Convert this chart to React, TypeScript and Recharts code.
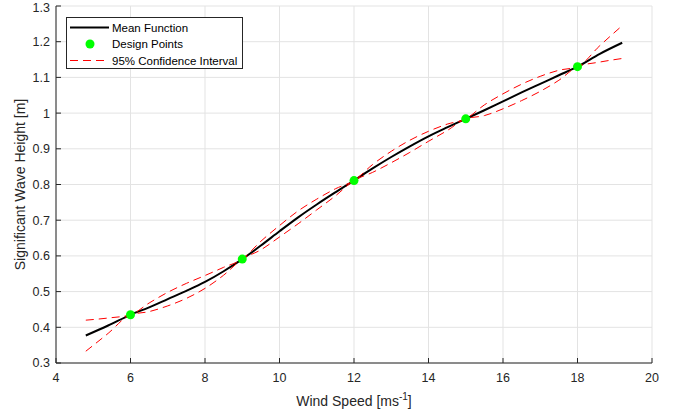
import {
  ComposedChart,
  Line,
  Scatter,
  XAxis,
  YAxis,
  CartesianGrid,
  Legend,
} from 'recharts';

// grid of wind speeds the curves were read at
const windSpeed = [
  4.8, 5.4, 6, 6.5, 7, 7.5, 8, 8.5, 9, 9.5, 10, 10.5, 11, 11.5, 12, 12.5, 13,
  13.5, 14, 14.5, 15, 15.5, 16, 16.5, 17, 17.5, 18, 18.6, 19.2,
];
const meanHs = [
  0.377, 0.405, 0.435, 0.456, 0.479, 0.502, 0.527, 0.557, 0.591, 0.629, 0.669,
  0.708, 0.744, 0.778, 0.811, 0.845, 0.877, 0.907, 0.935, 0.96, 0.984, 1.008,
  1.033, 1.058, 1.082, 1.106, 1.13, 1.166, 1.197,
];
const upperHs = [
  0.42, 0.426, 0.435, 0.468, 0.498, 0.523, 0.545, 0.568, 0.591, 0.641, 0.685,
  0.726, 0.759, 0.788, 0.811, 0.856, 0.893, 0.924, 0.949, 0.969, 0.984, 1.023,
  1.054, 1.081, 1.103, 1.12, 1.13, 1.189, 1.245,
];
const lowerHs = [
  0.333, 0.383, 0.435, 0.444, 0.46, 0.481, 0.509, 0.546, 0.591, 0.617, 0.653,
  0.69, 0.729, 0.768, 0.811, 0.834, 0.861, 0.89, 0.921, 0.951, 0.984, 0.993,
  1.012, 1.035, 1.061, 1.092, 1.13, 1.143, 1.153,
];

const designX = [6, 9, 12, 15, 18];
const designY = [0.435, 0.591, 0.811, 0.984, 1.13];

const xTicks = [4, 6, 8, 10, 12, 14, 16, 18, 20];
const yTicks = [0.3, 0.4, 0.5, 0.6, 0.7, 0.8, 0.9, 1, 1.1, 1.2, 1.3];

const curveData = windSpeed.map((x, i) => ({
  x,
  mean: meanHs[i],
  upper: upperHs[i],
  lower: lowerHs[i],
}));
const designData = designX.map((x, i) => ({ x, y: designY[i] }));

const FONT = '"Liberation Sans", Arial, Helvetica, sans-serif';
const TEXT = '#262626';

function XLabel({ viewBox }: any) {
  const cx = viewBox.x + viewBox.width / 2;
  return (
    <text x={cx} y={406} textAnchor="middle" fontFamily={FONT} fontSize={14} fill={TEXT}>
      Wind Speed [ms
      <tspan dy={-6} fontSize={10}>-1</tspan>
      <tspan dy={6} fontSize={14}>]</tspan>
    </text>
  );
}

function YLabel({ viewBox }: any) {
  const cy = viewBox.y + viewBox.height / 2;
  return (
    <text
      x={20}
      y={cy}
      transform={`rotate(-90 20 ${cy})`}
      textAnchor="middle"
      dominantBaseline="central"
      fontFamily={FONT}
      fontSize={14}
      fill={TEXT}
    >
      Significant Wave Height [m]
    </text>
  );
}

function LegendBox() {
  return (
    <svg width={177} height={52} style={{ display: 'block' }}>
      <rect x={0.5} y={0.5} width={176} height={51} fill="#fff" stroke="#262626" strokeWidth={1} />
      <line x1={4} x2={43} y1={10.5} y2={10.5} stroke="#000" strokeWidth={2} />
      <text x={46} y={14.5} fontFamily={FONT} fontSize={11.5} fill="#000">Mean Function</text>
      <circle cx={24} cy={27} r={4.5} fill="#00ff00" />
      <text x={46} y={31} fontFamily={FONT} fontSize={11.5} fill="#000">Design Points</text>
      <line x1={4} x2={43} y1={43.5} y2={43.5} stroke="#ff0000" strokeWidth={1} strokeDasharray="8 5" />
      <text x={46} y={47.5} fontFamily={FONT} fontSize={11.5} fill="#000">95% Confidence Interval</text>
    </svg>
  );
}

function DesignDot(props: any) {
  return <circle cx={props.cx} cy={props.cy} r={4.5} fill="#00ff00" />;
}

export default function App() {
  return (
    <div style={{ position: 'absolute', left: 0, top: 0, background: '#fff' }}>
      <ComposedChart
        width={683}
        height={414}
        data={curveData}
        margin={{ top: 6, right: 31, left: 0, bottom: 0 }}
      >
        <CartesianGrid stroke="#e3e3e3" strokeWidth={1} horizontalValues={yTicks} verticalValues={xTicks} />
        <XAxis
          dataKey="x"
          type="number"
          domain={[4, 20]}
          ticks={xTicks}
          height={51}
          stroke="#262626"
          tickSize={-5}
          tickMargin={15}
          tick={{ fontSize: 12.5, fill: TEXT, fontFamily: FONT }}
          label={<XLabel />}
        />
        <YAxis
          type="number"
          domain={[0.3, 1.3]}
          ticks={yTicks}
          width={56}
          stroke="#262626"
          tickSize={-5}
          tickMargin={11}
          tick={{ fontSize: 12.5, fill: TEXT, fontFamily: FONT }}
          tickFormatter={(v) => String(Number(Number(v).toFixed(1)))}
          label={<YLabel />}
        />
        <Legend
          verticalAlign="middle"
          align="center"
          content={() => <LegendBox />}
          wrapperStyle={{ position: 'absolute', left: 66, top: 17, width: 177, height: 52 }}
        />
        <Line
          dataKey="mean"
          type="monotone"
          stroke="#000000"
          strokeWidth={2}
          dot={false}
          isAnimationActive={false}
        />
        <Scatter
          data={designData}
          dataKey="y"
          shape={<DesignDot />}
          isAnimationActive={false}
        />
        <Line
          dataKey="upper"
          type="monotone"
          stroke="#ff0000"
          strokeWidth={1}
          strokeDasharray="8 5"
          dot={false}
          isAnimationActive={false}
        />
        <Line
          dataKey="lower"
          type="monotone"
          stroke="#ff0000"
          strokeWidth={1}
          strokeDasharray="8 5"
          dot={false}
          isAnimationActive={false}
        />
      </ComposedChart>
    </div>
  );
}
